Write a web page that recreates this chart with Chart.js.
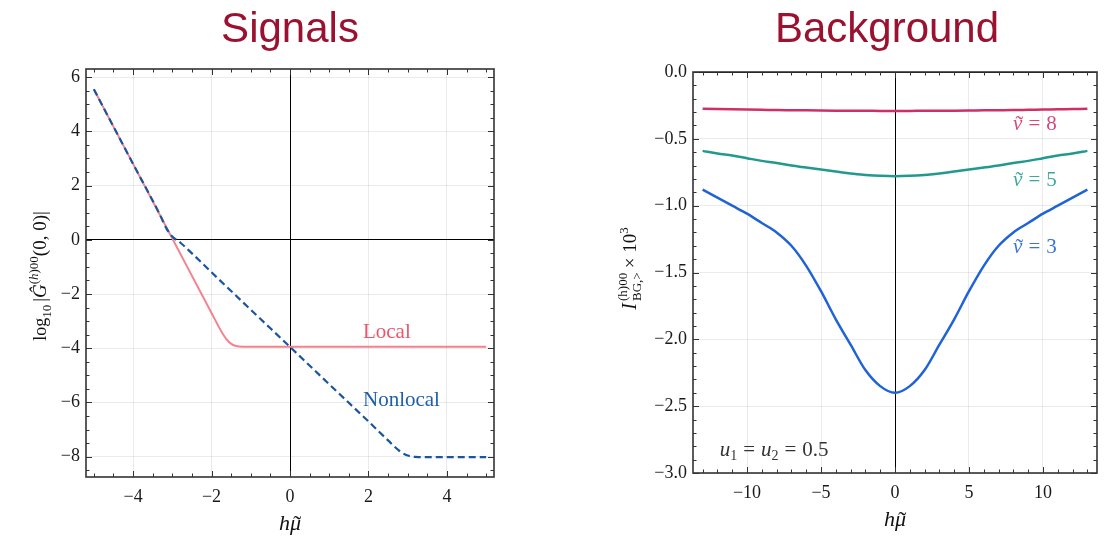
<!DOCTYPE html>
<html>
<head>
<meta charset="utf-8">
<script src="https://cdn.jsdelivr.net/npm/chart.js@4.4.1/dist/chart.umd.min.js"></script>
<style>
html, body { margin: 0; padding: 0; background: #fff; }
#wrap { position: relative; width: 1105px; height: 540px; overflow: hidden; }
canvas { position: absolute; top: 0; }
</style>
</head>
<body>
<div id="wrap">
  <canvas id="sig" width="580" height="540" style="left:0px"></canvas>
  <canvas id="bg" width="525" height="540" style="left:580px"></canvas>
</div>
<script>
const SERIF = "'Liberation Serif', 'DejaVu Serif', serif";
const SANS = "'Liberation Sans', Arial, sans-serif";
const TITLE_RED = '#9b1230';

// ---- Signals panel ----
const sigXTicks = [-4, -2, 0, 2, 4];
const sigYTicks = [-8, -6, -4, -2, 0, 2, 4, 6];
const localX = [-5, -4, -3, -2, -1.7, -1.55, -1.45, -1.3, -1.1, 0, 1, 2, 3, 4, 5];
const localY = [5.55, 2.8, 0.05, -2.7, -3.5, -3.78, -3.88, -3.94, -3.95, -3.95, -3.95, -3.95, -3.95, -3.95, -3.95];
const nonlocalX = [-5, -4, -3.3, -3.15, -3.0, -2.8, -2.5, -2, -1, 0, 1, 2, 2.5, 2.8, 3.0, 3.2, 3.5, 4, 5];
const nonlocalY = [5.55, 2.8, 0.88, 0.42, 0.12, -0.1, -0.5, -1.2, -2.58, -3.95, -5.33, -6.7, -7.4, -7.8, -7.96, -8.01, -8.02, -8.02, -8.02];

// ---- Background panel ----
const bgXTicks = [-10, -5, 0, 5, 10];
const bgYTicks = [-3.0, -2.5, -2.0, -1.5, -1.0, -0.5, 0.0];
const bgX = [-13, -12, -11, -10, -9, -8, -7, -6, -5, -4, -3, -2, -1, 0, 1, 2, 3, 4, 5, 6, 7, 8, 9, 10, 11, 12, 13];
const nu8 = [-0.275, -0.277, -0.279, -0.281, -0.283, -0.285, -0.286, -0.287, -0.288, -0.289, -0.29, -0.29, -0.291, -0.291,
             -0.291, -0.29, -0.29, -0.289, -0.288, -0.287, -0.286, -0.285, -0.283, -0.281, -0.279, -0.277, -0.275];
const nu5 = [-0.59, -0.61, -0.625, -0.645, -0.665, -0.68, -0.7, -0.715, -0.73, -0.745, -0.76, -0.77, -0.777, -0.78,
             -0.777, -0.77, -0.76, -0.745, -0.73, -0.715, -0.7, -0.68, -0.665, -0.645, -0.625, -0.61, -0.59];
const nu3 = [-0.88, -0.94, -1.0, -1.06, -1.13, -1.2, -1.3, -1.45, -1.64, -1.85, -2.04, -2.23, -2.35, -2.4,
             -2.35, -2.23, -2.04, -1.85, -1.64, -1.45, -1.3, -1.2, -1.13, -1.06, -1.0, -0.94, -0.88];

function pts(xs, ys) { return xs.map((x, i) => ({ x: x, y: ys[i] })); }
function fmt(v, d) { return (v < 0 ? '\u2212' : '') + Math.abs(v).toFixed(d); }

// small rich-text helper for the math-ish labels
function segFont(s) { return (s.italic ? 'italic ' : '') + s.size + 'px ' + SERIF; }
function segWidth(ctx, s) {
  if (s.gap) return s.gap;
  if (s.stack) {
    return Math.max(...s.stack.map(p => { ctx.font = segFont(p); return ctx.measureText(p.t).width; }));
  }
  ctx.font = segFont(s);
  return ctx.measureText(s.t).width;
}
function drawRich(ctx, segs, x, y, align, color) {
  ctx.save();
  ctx.fillStyle = color;
  ctx.textAlign = 'left';
  ctx.textBaseline = 'alphabetic';
  const w = segs.reduce((a, s) => a + segWidth(ctx, s), 0);
  let cx = align === 'center' ? x - w / 2 : x;
  segs.forEach(s => {
    if (s.stack) {
      s.stack.forEach(p => { ctx.font = segFont(p); ctx.fillText(p.t, cx, y + (p.dy || 0)); });
    } else if (!s.gap) {
      ctx.font = segFont(s);
      ctx.fillText(s.t, cx, y + (s.dy || 0));
      if (s.accent) {
        // tilde over the glyph
        const bw = ctx.measureText(s.t).width;
        ctx.font = Math.round(s.size * 1.1) + 'px ' + SERIF;
        const tw = ctx.measureText('\u02dc').width;
        ctx.fillText('\u02dc', cx + (bw - tw) / 2 + s.size * 0.08, y + (s.dy || 0) + s.size * 0.08);
      }
    }
    cx += segWidth(ctx, s);
  });
  ctx.restore();
}

// frame + inward major/minor ticks on all four sides
const frame = {
  id: 'frame',
  afterDatasetsDraw(chart, args, opts) {
    const { ctx, chartArea: a, scales: { x, y } } = chart;
    ctx.save();
    ctx.strokeStyle = '#333';
    ctx.lineWidth = 1;
    const isMajor = (sc, v) => sc.ticks.some(t => Math.abs(t.value - v) < 1e-6);
    ctx.beginPath();
    for (let k = Math.ceil(x.min / opts.xMinor - 1e-9); k * opts.xMinor <= x.max + 1e-9; k++) {
      const v = k * opts.xMinor, px = Math.round(x.getPixelForValue(v)) + 0.5;
      const len = isMajor(x, v) ? 6 : 3.5;
      ctx.moveTo(px, a.bottom); ctx.lineTo(px, a.bottom - len);
      ctx.moveTo(px, a.top); ctx.lineTo(px, a.top + len);
    }
    for (let k = Math.ceil(y.min / opts.yMinor - 1e-9); k * opts.yMinor <= y.max + 1e-9; k++) {
      const v = k * opts.yMinor, py = Math.round(y.getPixelForValue(v)) + 0.5;
      const len = isMajor(y, v) ? 6 : 3.5;
      ctx.moveTo(a.left, py); ctx.lineTo(a.left + len, py);
      ctx.moveTo(a.right, py); ctx.lineTo(a.right - len, py);
    }
    ctx.stroke();
    ctx.lineWidth = 1.6;
    ctx.strokeRect(a.left, a.top, a.right - a.left, a.bottom - a.top);
    ctx.restore();
  }
};

// titles, axis titles and in-plot labels
const notes = {
  id: 'notes',
  afterDraw(chart, args, opts) {
    const { ctx, chartArea: a, scales: { x, y } } = chart;
    const cx = (a.left + a.right) / 2;
    ctx.save();
    ctx.font = '42px ' + SANS;
    ctx.fillStyle = TITLE_RED;
    ctx.textAlign = 'center';
    ctx.textBaseline = 'alphabetic';
    ctx.fillText(opts.title, cx + (opts.titleDx || 0), 42);
    ctx.restore();

    drawRich(ctx, opts.xTitle, cx, a.bottom + 53, 'center', '#111');

    ctx.save();
    ctx.translate(a.left - opts.yTitleOff, (a.top + a.bottom) / 2 + (opts.yTitleDy || 0));
    ctx.rotate(-Math.PI / 2);
    drawRich(ctx, opts.yTitle, 0, 0, 'center', '#111');
    ctx.restore();

    opts.labels.forEach(l => drawRich(ctx, l.segs, x.getPixelForValue(l.x), y.getPixelForValue(l.y), 'left', l.color));
  }
};

function axisOpts(min, max, ticks, dec, isX, size) {
  return {
    type: 'linear',
    min: min,
    max: max,
    afterBuildTicks: s => { s.ticks = ticks.map(v => ({ value: v })); },
    afterFit: s => { if (isX) s.height = size; else s.width = size; },
    grid: {
      color: c => (c.tick && Math.abs(c.tick.value) < 1e-9) ? '#000' : 'rgba(0,0,0,0.08)',
      lineWidth: 1,
      drawTicks: false
    },
    border: { display: false },
    ticks: {
      padding: isX ? 9 : 6,
      color: '#1a1a1a',
      font: { family: SERIF, size: 18 },
      maxRotation: 0,
      autoSkip: false,
      callback: v => fmt(v, dec)
    }
  };
}

const xTitle = [{ t: 'h', size: 22, italic: true }, { t: '\u03bc', size: 22, italic: true, accent: true }];

new Chart(document.getElementById('sig'), {
  type: 'scatter',
  data: {
    datasets: [
      { label: 'Local', data: pts(localX, localY), showLine: true, pointRadius: 0, borderColor: '#f2838f',
        borderWidth: 2, cubicInterpolationMode: 'monotone', order: 2 },
      { label: 'Nonlocal', data: pts(nonlocalX, nonlocalY), showLine: true, pointRadius: 0, borderColor: '#1a55a0',
        borderWidth: 2.2, borderDash: [7, 4], cubicInterpolationMode: 'monotone', order: 1 }
    ]
  },
  options: {
    responsive: false,
    animation: false,
    layout: { padding: { left: 46, right: 86, top: 69, bottom: 23 } },
    scales: {
      x: axisOpts(-5.2, 5.2, sigXTicks, 0, true, 40),
      y: axisOpts(-8.75, 6.3, sigYTicks, 0, false, 40)
    },
    plugins: {
      legend: { display: false },
      tooltip: { enabled: false },
      frame: { xMinor: 0.5, yMinor: 0.5 },
      notes: {
        title: 'Signals',
        xTitle: xTitle,
        yTitleOff: 40,
        yTitleDy: 3,
        yTitle: [
          { t: 'log', size: 18 }, { t: '10', size: 13, dy: 5 }, { gap: 3 }, { t: '|', size: 19 },
          { t: '\u011c', size: 19, italic: true },
          { t: '(', size: 13, dy: -8 }, { t: 'h', size: 13, dy: -8, italic: true }, { t: ')00', size: 13, dy: -8 },
          { t: '(0, 0)|', size: 19 }
        ],
        labels: [
          { x: 1.86, y: -3.64, color: '#e8566f', segs: [{ t: 'Local', size: 21 }] },
          { x: 1.86, y: -6.12, color: '#1f5fa9', segs: [{ t: 'Nonlocal', size: 21 }] }
        ]
      }
    }
  },
  plugins: [frame, notes]
});

function nuLabel(n) {
  return [{ t: '\u03bd', size: 21, italic: true, accent: true }, { gap: 6 }, { t: '=', size: 21 }, { gap: 6 }, { t: n, size: 21 }];
}

new Chart(document.getElementById('bg'), {
  type: 'scatter',
  data: {
    datasets: [
      { label: 'nu8', data: pts(bgX, nu8), showLine: true, pointRadius: 0, borderColor: '#cf2f65',
        borderWidth: 2.5, cubicInterpolationMode: 'monotone' },
      { label: 'nu5', data: pts(bgX, nu5), showLine: true, pointRadius: 0, borderColor: '#22998f',
        borderWidth: 2.5, cubicInterpolationMode: 'monotone' },
      { label: 'nu3', data: pts(bgX, nu3), showLine: true, pointRadius: 0, borderColor: '#1f63d6',
        borderWidth: 2.5, cubicInterpolationMode: 'monotone' }
    ]
  },
  options: {
    responsive: false,
    animation: false,
    layout: { padding: { left: 63, right: 8, top: 72, bottom: 27 } },
    scales: {
      x: axisOpts(-13.65, 13.65, bgXTicks, 0, true, 40),
      y: axisOpts(-3.0, 0.0, bgYTicks, 1, false, 50)
    },
    plugins: {
      legend: { display: false },
      tooltip: { enabled: false },
      frame: { xMinor: 1, yMinor: 0.1 },
      notes: {
        title: 'Background',
        titleDx: -8,
        xTitle: xTitle,
        yTitleOff: 57,
        yTitleDy: -4,
        yTitle: [
          { t: 'I', size: 20, italic: true }, { gap: 2 },
          { stack: [{ t: '(h)00', size: 13, dy: -9 }, { t: 'BG,>', size: 13, dy: 5 }] },
          { gap: 4 }, { t: '\u00d7 10', size: 19 }, { t: '3', size: 13, dy: -8 }
        ],
        labels: [
          { x: 7.98, y: -0.435, color: '#d9487a', segs: nuLabel('8') },
          { x: 7.98, y: -0.854, color: '#3fa89e', segs: nuLabel('5') },
          { x: 7.98, y: -1.354, color: '#3a74d8', segs: nuLabel('3') },
          { x: -11.85, y: -2.87, color: '#333', segs: [
            { t: 'u', size: 21, italic: true }, { t: '1', size: 14, dy: 4 }, { gap: 6 }, { t: '=', size: 21 }, { gap: 6 },
            { t: 'u', size: 21, italic: true }, { t: '2', size: 14, dy: 4 }, { gap: 6 }, { t: '=', size: 21 }, { gap: 6 },
            { t: '0.5', size: 21 }
          ] }
        ]
      }
    }
  },
  plugins: [frame, notes]
});
</script>
</body>
</html>
